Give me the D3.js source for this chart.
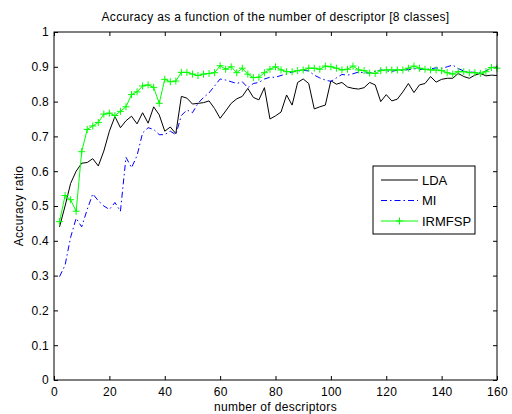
<!DOCTYPE html>
<html>
<head>
<meta charset="utf-8">
<script src="https://cdn.jsdelivr.net/npm/d3@7"></script>
<style>
  body { margin: 0; background: #fff; }
  text { font-family: "Liberation Sans", Arial, sans-serif; fill: #000; }
</style>
</head>
<body>
<svg id="chart" width="512" height="414"></svg>
<script>
// number of descriptors (x), every 2 from 2 to 160
const descriptors = d3.range(2, 161, 2);

const lda = [
  .44, .50, .565, .60, .623, .625, .636, .615, .658, .715,
  .757, .725, .745, .758, .736, .768, .738, .785, .762, .715,
  .727, .708, .815, .81, .793, .795, .797, .802, .78, .752,
  .773, .795, .808, .815, .838, .812, .805, .84, .75, .759,
  .77, .819, .79, .855, .865, .852, .779, .785, .79, .86,
  .85, .855, .842, .838, .836, .84, .855, .848, .80, .82,
  .802, .807, .828, .852, .826, .848, .852, .872, .856, .864,
  .867, .867, .881, .872, .867, .876, .881, .874, .876, .875
];

const mi = [
  .297, .33, .41, .465, .44, .49, .535, .515, .50, .49,
  .51, .485, .64, .61, .645, .71, .725, .72, .705, .705,
  .715, .705, .76, .776, .768, .795, .812, .825, .845, .865,
  .862, .857, .852, .857, .84, .852, .855, .865, .87, .87,
  .875, .88, .885, .888, .89, .888, .876, .868, .862, .858,
  .868, .878, .876, .88, .885, .883, .882, .887, .891, .888,
  .887, .89, .89, .892, .895, .893, .892, .894, .897, .895,
  .90, .905, .895, .888, .885, .884, .883, .888, .898, .90
];

const irmfsp = [
  .455, .53, .518, .485, .656, .72, .73, .74, .764, .767,
  .76, .772, .785, .82, .828, .845, .848, .841, .795, .864,
  .857, .859, .884, .884, .879, .875, .879, .881, .883, .903,
  .893, .90, .883, .896, .879, .869, .87, .883, .893, .90,
  .891, .886, .886, .889, .891, .896, .896, .893, .902, .90,
  .896, .891, .893, .902, .891, .889, .882, .881, .889, .891,
  .891, .891, .891, .896, .902, .896, .893, .891, .891, .889,
  .883, .879, .886, .886, .883, .883, .881, .886, .898, .896
];

const xTicks = d3.range(0, 161, 20);
const yTicks = d3.range(0, 1.01, 0.1);

const series = [
  { name: "LDA", values: lda, color: "#000000", dash: null, marker: false },
  { name: "MI", values: mi, color: "#0000ff", dash: "6,3,1.5,3", marker: false },
  { name: "IRMFSP", values: irmfsp, color: "#00ff00", dash: null, marker: true }
];

const svg = d3.select("#chart");
const m = { left: 54, right: 497, top: 32, bottom: 380 };

const x = d3.scaleLinear().domain([0, 160]).range([m.left, m.right]);
const y = d3.scaleLinear().domain([0, 1]).range([m.bottom, m.top]);

// axes, MATLAB style ticks pointing inward
const tick = 4;
svg.append("g")
  .attr("transform", `translate(0,${m.bottom})`)
  .call(d3.axisBottom(x).tickValues(xTicks).tickSize(-tick).tickPadding(7).tickFormat(d3.format("d")))
  .call(g => g.select(".domain").remove());
svg.append("g")
  .attr("transform", `translate(0,${m.top})`)
  .call(d3.axisTop(x).tickValues(xTicks).tickSize(-tick).tickFormat(""))
  .call(g => g.select(".domain").remove());
svg.append("g")
  .attr("transform", `translate(${m.left},0)`)
  .call(d3.axisLeft(y).tickValues(yTicks).tickSize(-tick).tickPadding(5).tickFormat(d => d3.format("~g")(+d.toFixed(1))))
  .call(g => g.select(".domain").remove());
svg.append("g")
  .attr("transform", `translate(${m.right},0)`)
  .call(d3.axisRight(y).tickValues(yTicks).tickSize(-tick).tickFormat(""))
  .call(g => g.select(".domain").remove());

svg.selectAll(".tick text")
  .style("font-size", "12px")
  .style("letter-spacing", "0.3px")
  .style("font-family", "Liberation Sans, Arial, sans-serif");
svg.selectAll(".tick line").attr("stroke", "#000");

const line = d3.line()
  .x((d, i) => x(descriptors[i]))
  .y(d => y(d));

const plot = svg.append("g");
series.forEach(s => {
  plot.append("path")
    .datum(s.values)
    .attr("d", line)
    .attr("fill", "none")
    .attr("stroke", s.color)
    .attr("stroke-width", 1)
    .attr("stroke-dasharray", s.dash);
  if (s.marker) {
    plot.selectAll(null)
      .data(s.values)
      .join("path")
      .attr("d", (d, i) => {
        const cx = x(descriptors[i]), cy = y(d), r = 3.5;
        return `M${cx - r},${cy}H${cx + r}M${cx},${cy - r}V${cy + r}`;
      })
      .attr("stroke", s.color)
      .attr("stroke-width", 1);
  }
});

// box
svg.append("rect")
  .attr("x", m.left).attr("y", m.top)
  .attr("width", m.right - m.left).attr("height", m.bottom - m.top)
  .attr("fill", "none").attr("stroke", "#000").attr("stroke-width", 1);

// titles
svg.append("text")
  .attr("x", (m.left + m.right) / 2).attr("y", 21)
  .attr("text-anchor", "middle").style("font-size", "12px").style("letter-spacing", "0.33px")
  .text("Accuracy as a function of the number of descriptor [8 classes]");
svg.append("text")
  .attr("x", (m.left + m.right) / 2).attr("y", 411)
  .attr("text-anchor", "middle").style("font-size", "12px").style("letter-spacing", "0.33px")
  .text("number of descriptors");
svg.append("text")
  .attr("transform", `translate(23,${(m.top + m.bottom) / 2}) rotate(-90)`)
  .attr("text-anchor", "middle").style("font-size", "12px").style("letter-spacing", "0.33px")
  .text("Accuracy ratio");

// legend
const lg = svg.append("g").attr("transform", "translate(373,166)");
lg.append("rect")
  .attr("width", 102).attr("height", 68)
  .attr("fill", "#fff").attr("stroke", "#000").attr("stroke-width", 1);
series.forEach((s, i) => {
  const ly = 14 + i * 20.5;
  lg.append("line")
    .attr("x1", 8).attr("x2", 45).attr("y1", ly).attr("y2", ly)
    .attr("stroke", s.color).attr("stroke-width", 1)
    .attr("stroke-dasharray", s.dash);
  if (s.marker) {
    lg.append("path")
      .attr("d", `M23,${ly}H30M26.5,${ly - 3.5}V${ly + 3.5}`)
      .attr("stroke", s.color).attr("stroke-width", 1);
  }
  lg.append("text")
    .attr("x", 49).attr("y", ly + 4.5)
    .style("font-size", "13px")
    .text(s.name);
});
</script>
</body>
</html>
